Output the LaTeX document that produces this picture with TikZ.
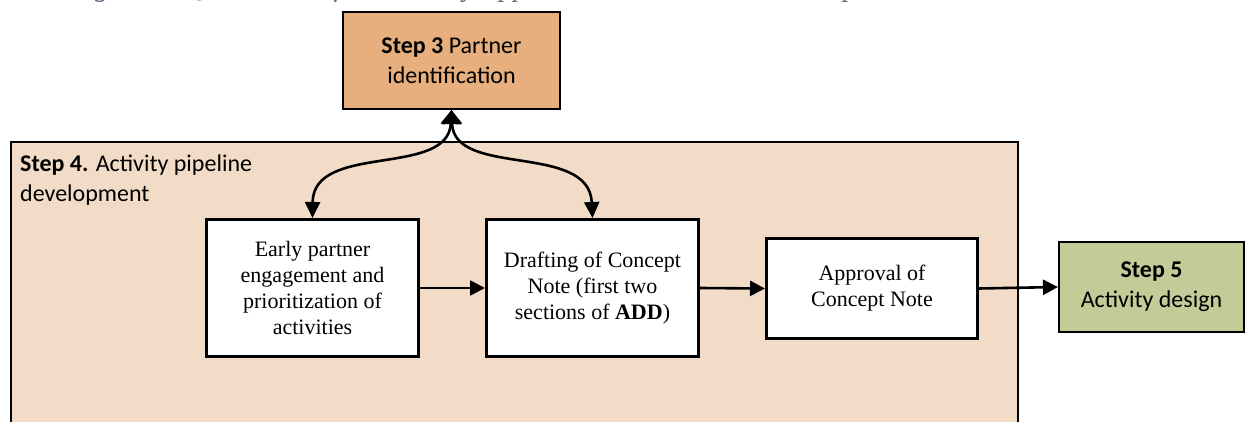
\documentclass[tikz,border=0pt]{standalone}
\usepackage{fontspec}
\setmainfont{Liberation Serif}
\newfontfamily\calib{Carlito}
\usetikzlibrary{arrows.meta}
\definecolor{partnerfill}{HTML}{E6AF7D}
\definecolor{pipefill}{HTML}{F2DCC8}
\definecolor{designfill}{HTML}{C3CC98}
\definecolor{captionblue}{HTML}{5A6A82}
\begin{document}
\begin{tikzpicture}[x=1pt,y=-1pt,
  stepbox/.style={draw=black, line width=2pt, inner sep=0pt, align=center,
    font=\calib\fontsize{24}{30}\selectfont, anchor=north west},
  actbox/.style={draw=black, line width=3pt, fill=white, inner sep=0pt, align=center,
    font=\fontsize{22}{26}\selectfont, anchor=north west},
  flow/.style={line width=2.6pt, -{Triangle[length=15pt,width=15pt]}},
  link/.style={line width=2.6pt, {Triangle[length=14pt,width=20pt]}-{Triangle[length=16pt,width=15pt]}}]
\useasboundingbox (0,0) rectangle (1246,422);
\clip (0,0) rectangle (1246,422);

% caption line above the figure
\node[anchor=base west, inner sep=0pt, text=captionblue,
  font=\itshape\fontsize{28}{30}\selectfont] (cap) at (70,-3)
  {Figure 2: Quick View of the Activity Approval Process: Focus on Step 4};

% Step 4 container
\node[draw=black, line width=1.8pt, fill=pipefill, minimum width=1007pt,
  minimum height=320pt, anchor=north west] (pipe) at (10,141) {};
\node[anchor=north west, inner sep=0pt, align=left,
  font=\calib\fontsize{24}{30}\selectfont] (pipelbl) at (20,155)
  {\textbf{Step 4.} Activity pipeline\\development};

% neighbouring steps
\node[stepbox, fill=partnerfill, minimum width=217pt, minimum height=97pt]
  (partner) at (342,11) {\textbf{Step 3} Partner\\identification};
\node[stepbox, fill=designfill, minimum width=185pt, minimum height=90pt]
  (design) at (1058,241) {\textbf{Step 5}\\Activity design};

% activities inside Step 4
\node[actbox, minimum width=212pt, minimum height=137pt] (early) at (205,218)
  {Early partner\\engagement and\\prioritization of\\activities};
\node[actbox, minimum width=212pt, minimum height=137pt] (draft) at (485,218)
  {Drafting of Concept\\Note (first two\\sections of \textbf{ADD})};
\node[actbox, minimum width=211pt, minimum height=100pt] (approve) at (765,237)
  {Approval of\\Concept Note};

% flow between activities
\draw[flow] (early.east) -- (draft.west);
\draw[flow] (draft.east) -- (approve.west);
\draw[flow] (approve.east) -- (design.west);

% two-way links with partner identification
\draw[link] (partner.south) .. controls (448,178) and (313,142) .. (early.north);
\draw[link] (partner.south) .. controls (454,178) and (589,142) .. (draft.north);
\end{tikzpicture}
\end{document}
